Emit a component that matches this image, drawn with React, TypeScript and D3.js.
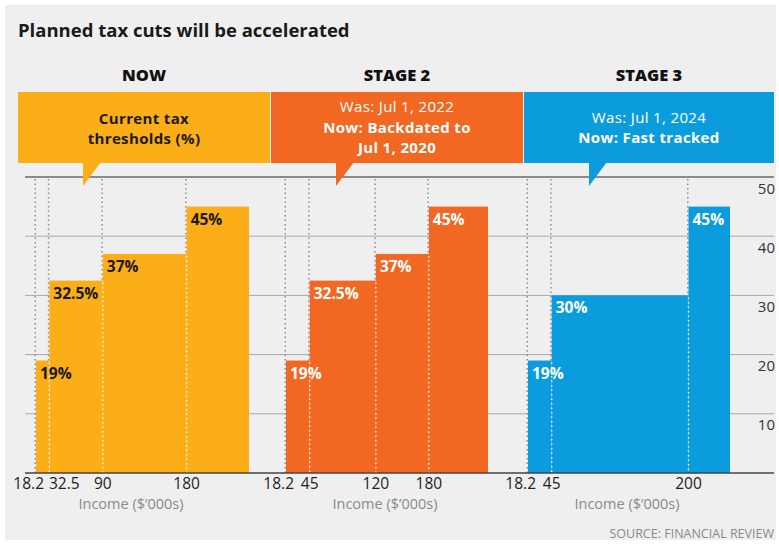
import React from "react";
import * as d3 from "d3";

// ---------- data ----------
const chartTitle = "Planned tax cuts will be accelerated";
const panelHeaders = ["NOW", "STAGE 2", "STAGE 3"];

const nowThresholds = [18.2, 32.5, 90, 180];
const nowRates = [19, 32.5, 37, 45];

const stage2Thresholds = [18.2, 45, 120, 180];
const stage2Rates = [19, 32.5, 37, 45];

const stage3Thresholds = [18.2, 45, 200];
const stage3Rates = [19, 30, 45];

const incomeEnd = 247; // where the top bracket is drawn to
const yTicks = [10, 20, 30, 40, 50];

const nowNote = ["Current tax", "thresholds (%)"];
const nowNoteBold = [true, true];
const stage2Note = ["Was: Jul 1, 2022", "Now: Backdated to", "Jul 1, 2020"];
const stage2NoteBold = [false, true, true];
const stage3Note = ["Was: Jul 1, 2024", "Now: Fast tracked"];
const stage3NoteBold = [false, true];

const axisTitle = "Income ($\u2019000s)";
const sourceText = "SOURCE: FINANCIAL REVIEW";

// ---------- layout ----------
const W = 779;
const H = 544;
const FONT = "'Open Sans', 'DejaVu Sans', sans-serif";
const BG = "#efefef";

const panels = [
  {
    header: panelHeaders[0],
    thresholds: nowThresholds,
    rates: nowRates,
    note: nowNote,
    noteBold: nowNoteBold,
    color: "#fbae17",
    textColor: "#1a1a1a",
    labelColor: "#1a1a1a",
    box: [18, 270],
    range: [36, 249],
    noteMid: 128.5,
    axisTitleX: 131,
  },
  {
    header: panelHeaders[1],
    thresholds: stage2Thresholds,
    rates: stage2Rates,
    note: stage2Note,
    noteBold: stage2NoteBold,
    color: "#f26722",
    textColor: "#ffffff",
    labelColor: "#ffffff",
    box: [271, 523],
    range: [286, 488],
    noteMid: 127,
    axisTitleX: 385,
  },
  {
    header: panelHeaders[2],
    thresholds: stage3Thresholds,
    rates: stage3Rates,
    note: stage3Note,
    noteBold: stage3NoteBold,
    color: "#0b9cdd",
    textColor: "#ffffff",
    labelColor: "#ffffff",
    box: [524, 774],
    range: [528, 730],
    noteMid: 127.5,
    axisTitleX: 627,
  },
];

const boxTop = 92;
const boxBottom = 163;
const gridLeft = 25;
const gridRight = 774;
const noteLineGap = 20.5;

const y = d3.scaleLinear().domain([0, 50]).range([473, 177]);

let measureCtx: CanvasRenderingContext2D | null = null;
function textWidth(s: string, font: string) {
  if (!measureCtx) {
    const c = document.createElement("canvas");
    measureCtx = c.getContext("2d");
  }
  if (!measureCtx) return s.length * 9;
  measureCtx.font = font;
  return measureCtx.measureText(s).width;
}

function fmt(v: number) {
  return String(v);
}

export default function App() {
  const tickFontSize = 15.5;
  const tickFont = `${tickFontSize}px 'Open Sans'`;

  return (
    <svg
      width={W}
      height={H}
      viewBox={`0 0 ${W} ${H}`}
      style={{ position: "absolute", left: 0, top: 0, display: "block" }}
      fontFamily={FONT}
    >
      <rect x={0} y={0} width={W} height={H} fill="#ffffff" />
      <rect x={5} y={5} width={771} height={535} fill={BG} />

      <text x={18} y={37} fontSize={18.5} fontWeight={700} fill="#1a1a1a">
        {chartTitle}
      </text>

      {/* horizontal gridlines */}
      {yTicks.map((t) => (
        <line
          key={"g" + t}
          x1={gridLeft}
          x2={gridRight}
          y1={y(t)}
          y2={y(t)}
          stroke={t === 50 ? "#6a6a6a" : "#a8a8a8"}
          strokeWidth={t === 50 ? 1.6 : 1}
        />
      ))}
      {yTicks.map((t) => (
        <text
          key={"yl" + t}
          x={775}
          y={y(t) + 16.5}
          textAnchor="end"
          fontSize={15}
          fill="#333"
        >
          {t}
        </text>
      ))}

      {panels.map((p, pi) => {
        const x = d3.scaleLinear().domain([18.2, incomeEnd]).range(p.range);
        const edges = [...p.thresholds, incomeEnd];
        const cx = (p.box[0] + p.box[1]) / 2;
        const ptrX = p.box[0] + 65;
        const noteFirst =
          p.noteMid - ((p.note.length - 1) * noteLineGap) / 2 + 5.5;

        // tick label layout: first anchored end, rest centred and pushed to avoid overlap
        const labels: { text: string; x: number; anchor: string }[] = [];
        let prevEnd = -Infinity;
        p.thresholds.forEach((t, i) => {
          const txt = fmt(t);
          const w = textWidth(txt, tickFont);
          if (i === 0) {
            const end = x(t) + 8;
            labels.push({ text: txt, x: end, anchor: "end" });
            prevEnd = end;
          } else {
            let c = x(t);
            if (c - w / 2 < prevEnd + 5) c = prevEnd + 5 + w / 2;
            labels.push({ text: txt, x: c, anchor: "middle" });
            prevEnd = c + w / 2;
          }
        });

        return (
          <g key={"p" + pi}>
            {/* header */}
            <text
              x={cx}
              y={81}
              textAnchor="middle"
              fontSize={16.5}
              fontWeight={800}
              fill="#111"
            >
              {p.header}
            </text>

            {/* grey dotted threshold guides */}
            {p.thresholds.map((t, i) => (
              <line
                key={"gd" + i}
                x1={x(t) - 0.75}
                x2={x(t) - 0.75}
                y1={y(50) + 2}
                y2={y(0)}
                stroke="#8c8c8c"
                strokeWidth={1.5}
                strokeDasharray="1.5 3"
              />
            ))}

            {/* bars */}
            {p.rates.map((r, i) => (
              <rect
                key={"b" + i}
                x={x(edges[i])}
                y={y(r)}
                width={x(edges[i + 1]) - x(edges[i])}
                height={y(0) - y(r)}
                fill={p.color}
              />
            ))}

            {/* white dotted guides inside bars */}
            {p.thresholds.map((t, i) =>
              i === 0 ? null : (
                <line
                  key={"wd" + i}
                  x1={x(t)}
                  x2={x(t)}
                  y1={y(p.rates[i - 1]) + 2}
                  y2={y(0)}
                  stroke="#ffffff"
                  strokeOpacity={0.85}
                  strokeWidth={1.5}
                  strokeDasharray="1.5 3"
                />
              )
            )}

            {/* bar labels */}
            {p.rates.map((r, i) => (
              <text
                key={"bl" + i}
                x={x(edges[i]) + 4}
                y={y(r) + 18}
                fontSize={15.5}
                fontWeight={700}
                fill={p.labelColor}
              >
                {fmt(r) + "%"}
              </text>
            ))}

            {/* note box + pointer */}
            <rect
              x={p.box[0]}
              y={boxTop}
              width={p.box[1] - p.box[0]}
              height={boxBottom - boxTop}
              fill={p.color}
            />
            <path
              d={`M${ptrX},${boxBottom - 1} L${ptrX + 18},${boxBottom - 1} L${ptrX},${186} Z`}
              fill={p.color}
            />
            {p.note.map((line, i) => (
              <text
                key={"n" + i}
                x={cx}
                y={noteFirst + i * noteLineGap}
                textAnchor="middle"
                fontSize={15}
                letterSpacing={0.35}
                fontWeight={p.noteBold[i] ? 700 : 400}
                fill={p.textColor}
              >
                {line}
              </text>
            ))}

            {/* tick labels */}
            {labels.map((l, i) => (
              <text
                key={"xl" + i}
                x={l.x}
                y={489}
                textAnchor={l.anchor as any}
                fontSize={tickFontSize}
                fill="#222"
              >
                {l.text}
              </text>
            ))}
            <text
              x={p.axisTitleX}
              y={508.5}
              textAnchor="middle"
              fontSize={14.5}
              fill="#8a8a8a"
            >
              {axisTitle}
            </text>
          </g>
        );
      })}

      {/* x axis baseline */}
      <line
        x1={gridLeft}
        x2={gridRight}
        y1={y(0)}
        y2={y(0)}
        stroke="#444"
        strokeWidth={1.5}
      />

      <text x={774} y={538} textAnchor="end" fontSize={12.5} fill="#8a8a8a">
        {sourceText}
      </text>
    </svg>
  );
}
